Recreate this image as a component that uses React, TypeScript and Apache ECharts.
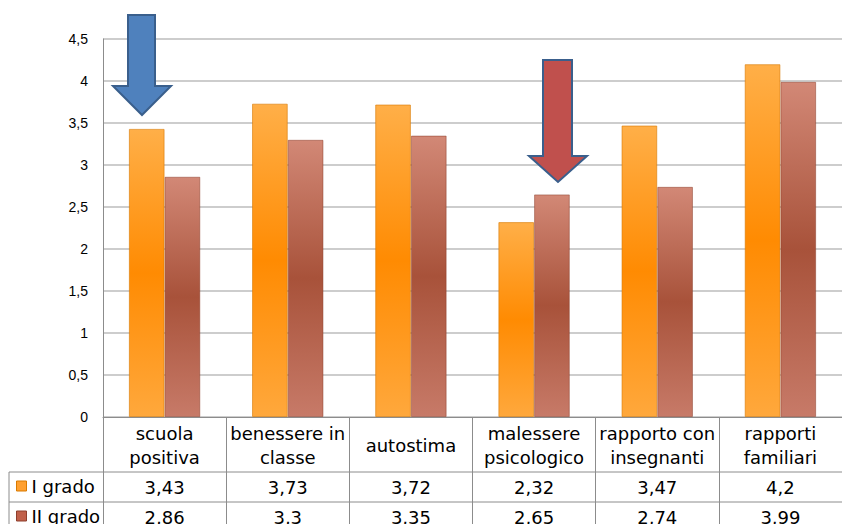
import React, { useEffect, useRef } from "react";
import * as echarts from "echarts";

const categories = [
  "scuola\npositiva",
  "benessere in\nclasse",
  "autostima",
  "malessere\npsicologico",
  "rapporto con\ninsegnanti",
  "rapporti\nfamiliari",
];
const seriesNames = ["I grado", "II grado"];
const iGrado = [3.43, 3.73, 3.72, 2.32, 3.47, 4.2];
const iiGrado = [2.86, 3.3, 3.35, 2.65, 2.74, 3.99];
const yMin = 0;
const yMax = 4.5;
const yStep = 0.5;

const fmt = (v: number) => String(v).replace(".", ",");
const AXFONT = "'Liberation Sans', Arial, sans-serif";
const TFONT = "'DejaVu Sans', sans-serif";

const orangeGrad = new echarts.graphic.LinearGradient(0, 0, 0, 1, [
  { offset: 0, color: "#FFAF48" },
  { offset: 0.5, color: "#FF8B02" },
  { offset: 1, color: "#FFA83C" },
]);
const brownGrad = new echarts.graphic.LinearGradient(0, 0, 0, 1, [
  { offset: 0, color: "#D28876" },
  { offset: 0.5, color: "#A8523A" },
  { offset: 1, color: "#C77A68" },
]);

export default function App() {
  const ref = useRef<HTMLDivElement>(null);
  useEffect(() => {
    if (!ref.current) return;
    const chart = echarts.init(ref.current, undefined, { renderer: "svg" });
    const legendBase = {
      orient: "horizontal",
      left: 16,
      padding: 0,
      itemWidth: 10,
      itemHeight: 10,
      icon: "rect",
      textStyle: { fontSize: 18, color: "#000", fontFamily: TFONT },
    };
    const option: any = {
      animation: false,
      backgroundColor: "#ffffff",
      grid: { left: 103, top: 39, width: 747, height: 378, containLabel: false },
      legend: [
        {
          ...legendBase,
          top: 477,
          data: [{ name: seriesNames[0], itemStyle: { color: "#FFA030", borderColor: "#D97A00", borderWidth: 1 } }],
        },
        {
          ...legendBase,
          top: 507,
          data: [{ name: seriesNames[1], itemStyle: { color: "#C0604A", borderColor: "#8E3E2C", borderWidth: 1 } }],
        },
      ],
      xAxis: {
        type: "category",
        data: categories,
        axisLine: { show: true, lineStyle: { color: "#8c8c8c", width: 1 } },
        axisTick: { show: true, length: 107, lineStyle: { color: "#8c8c8c", width: 1 } },
        axisLabel: {
          interval: 0,
          margin: 28,
          verticalAlign: "middle",
          lineHeight: 24,
          fontSize: 18,
          color: "#000",
          fontFamily: TFONT,
        },
      },
      yAxis: {
        type: "value",
        min: yMin,
        max: yMax,
        interval: yStep,
        axisLine: { show: true, lineStyle: { color: "#8c8c8c", width: 1 } },
        axisTick: { show: false },
        splitLine: { show: true, lineStyle: { color: "#bcbcbc", width: 1.5 } },
        axisLabel: {
          formatter: (v: number) => fmt(v),
          fontSize: 14,
          margin: 15,
          color: "#000",
          fontFamily: AXFONT,
        },
      },
      series: [
        {
          name: seriesNames[0],
          type: "bar",
          data: iGrado,
          barGap: "0%",
          barCategoryGap: "42%",
          itemStyle: { color: orangeGrad, borderColor: "rgba(215,120,0,0.6)", borderWidth: 1 },
        },
        {
          name: seriesNames[1],
          type: "bar",
          data: iiGrado,
          itemStyle: { color: brownGrad, borderColor: "rgba(140,60,40,0.5)", borderWidth: 1 },
        },
      ],
    };
    chart.setOption(option);

    const graphics: any[] = [];
    const lineStyle = { stroke: "#8c8c8c", lineWidth: 1 };
    graphics.push({ type: "line", z: 50, shape: { x1: 9, y1: 472, x2: 850, y2: 472 }, style: lineStyle });
    graphics.push({ type: "line", z: 50, shape: { x1: 9, y1: 502, x2: 850, y2: 502 }, style: lineStyle });
    graphics.push({ type: "line", z: 50, shape: { x1: 9, y1: 472, x2: 9, y2: 530 }, style: lineStyle });

    const rows = [iGrado, iiGrado];
    const rowY = [487, 517];
    categories.forEach((_, i) => {
      const x = chart.convertToPixel({ xAxisIndex: 0 }, i) as number;
      rows.forEach((row, r) => {
        graphics.push({
          type: "text",
          z: 60,
          x,
          y: rowY[r],
          style: {
            text: fmt(row[i]),
            fontSize: 18,
            fontFamily: TFONT,
            fill: "#000",
            align: "center",
            verticalAlign: "middle",
            textAlign: "center",
            textVerticalAlign: "middle",
          },
        });
      });
    });

    graphics.push({
      type: "polygon",
      z: 100,
      shape: {
        points: [
          [128, 15], [155, 15], [155, 86], [171, 86], [142, 115], [113, 86], [128, 86],
        ],
      },
      style: { fill: "#4F81BD", stroke: "#3A5F8C", lineWidth: 2 },
    });
    graphics.push({
      type: "polygon",
      z: 100,
      shape: {
        points: [
          [543, 60], [572, 60], [572, 156], [587, 156], [558, 182], [529, 156], [543, 156],
        ],
      },
      style: { fill: "#C0504D", stroke: "#3A5F8C", lineWidth: 2 },
    });

    chart.setOption({ graphic: graphics });
    return () => chart.dispose();
  }, []);
  return (
    <div
      ref={ref}
      style={{ position: "absolute", left: 0, top: 0, width: 842, height: 524 }}
    />
  );
}
